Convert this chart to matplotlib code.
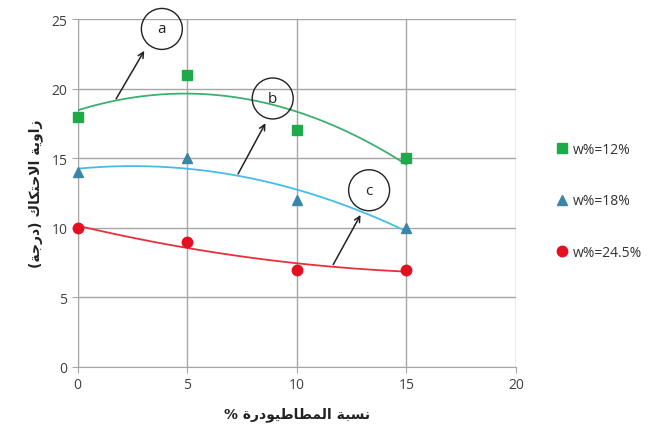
import numpy as np
import matplotlib
matplotlib.use("Agg")
import matplotlib.pyplot as plt

# data
x = [0, 5, 10, 15]
w12 = [18, 21, 17, 15]
w18 = [14, 15, 12, 10]
w245 = [10, 9, 7, 7]
labels = ["w%=12%", "w%=18%", "w%=24.5%"]

# Arabic labels, pre-shaped (presentation forms, visual order) since matplotlib does no shaping
xlabel = "% \uFE93\uFEAD\uFEA9\uFEEE\uFEF4\uFEC3\uFE8E\uFEC4\uFEE4\uFEDF\uFE8D \uFE94\uFE92\uFEB4\uFEE7"
ylabel = "(\uFE94\uFE9F\uFEAD\uFEA9) \uFED9\uFE8E\uFEDC\uFE98\uFEA3\uFEFB\uFE8D \uFE94\uFEF3\uFEED\uFE8D\uFEAF"

plt.rcParams['font.family'] = ['Open Sans', 'DejaVu Sans']

fig = plt.figure(figsize=(6.7, 4.39), dpi=100)
ax = fig.add_axes([0.116, 0.162, 0.654, 0.792])

series = [
    (w12, 's', '#1faa4a', '#3cb06e'),
    (w18, '^', '#3b86a8', '#45bde8'),
    (w245, 'o', '#e3101f', '#e8303a'),
]
xs = np.linspace(0, 15, 200)
for (y, m, mc, lc), lab in zip(series, labels):
    # Excel-style order-2 polynomial trendline
    p = np.polyfit(x, y, 2)
    ax.plot(xs, np.polyval(p, xs), color=lc, lw=1.3, zorder=3)
    ax.plot(x, y, m, color=mc, ms=7.5, mec=mc, label=lab, zorder=4, clip_on=False)

ax.set_xlim(0, 20)
ax.set_ylim(0, 25)
ax.set_xticks([0, 5, 10, 15, 20])
ax.set_yticks([0, 5, 10, 15, 20, 25])
ax.grid(True, color='#a6a6a6', lw=1)
ax.set_axisbelow(True)
for s in ['top', 'right']:
    ax.spines[s].set_visible(False)
for s in ['left', 'bottom']:
    ax.spines[s].set_color('#a6a6a6')
ax.tick_params(colors='#a6a6a6', labelcolor='#404040', labelsize=10, length=4)

ax.set_xlabel(xlabel, family='DejaVu Sans', fontweight='bold', fontsize=10, color='#222222', labelpad=10)
ax.set_ylabel(ylabel, family='DejaVu Sans', fontweight='bold', fontsize=10, color='#222222', labelpad=6)

# circled letters with arrows
notes = [('a', (3.84, 24.3), (1.69, 19.1), (3.1, 22.9)),
         ('b', (8.9, 19.3), (7.26, 13.7), (8.63, 17.7)),
         ('c', (13.3, 12.7), (11.6, 7.18), (12.97, 11.1))]
for t, pos, tail, head in notes:
    ax.text(pos[0], pos[1], t, ha='center', va='center', fontsize=11, color='#222222',
            bbox=dict(boxstyle='circle,pad=0.85', fc='none', ec='#222222', lw=1), zorder=5, clip_on=False)
    ax.annotate('', xy=head, xytext=tail,
                arrowprops=dict(arrowstyle='->', color='#222222', lw=1.1), zorder=5)

fig.legend(loc='center left', bbox_to_anchor=(0.81, 0.54), frameon=False, fontsize=10,
           labelspacing=2.6, handlelength=1, handletextpad=0.3, labelcolor='#333333')

fig.savefig('out.png', dpi=100)
